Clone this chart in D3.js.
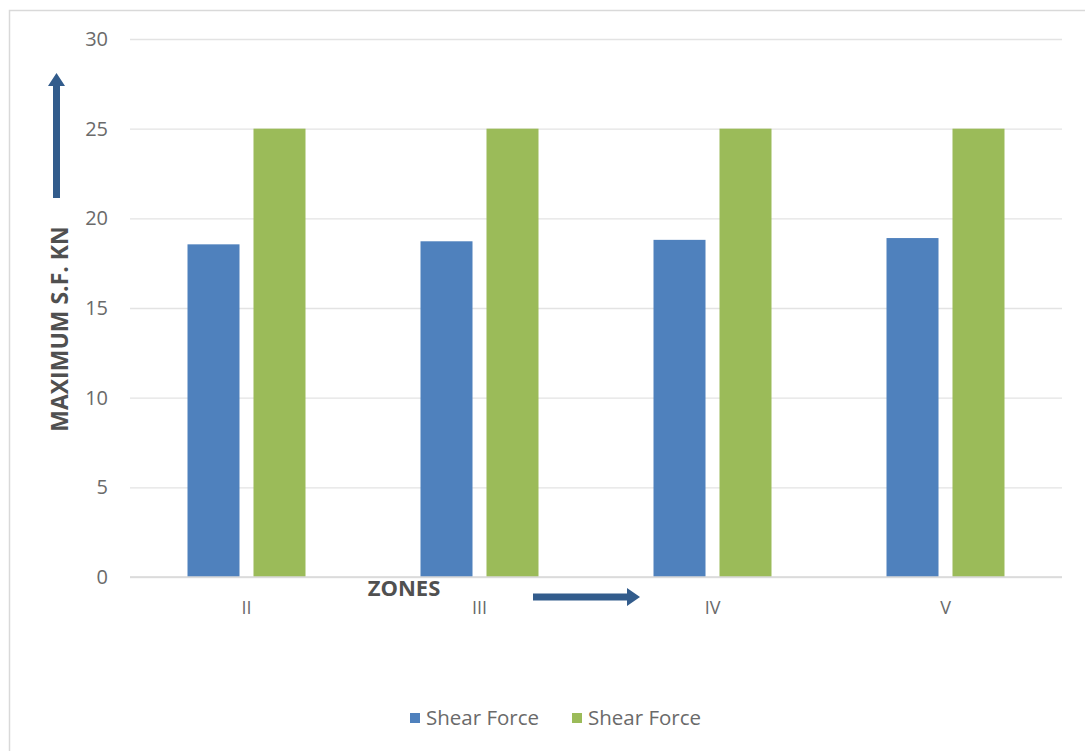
<!DOCTYPE html>
<html>
<head>
<meta charset="utf-8">
<script src="https://cdn.jsdelivr.net/npm/d3@7"></script>
<style>
  html, body { margin: 0; padding: 0; background: #fff; }
  svg { display: block; font-family: "Open Sans", sans-serif; }
</style>
</head>
<body>
<svg id="chart" width="1085" height="751"></svg>
<script>
// Zones on the x axis
const zones = ["II", "III", "IV", "V"];
// Maximum shear force (kN) per zone, two series
const shearForceA = [18.55, 18.72, 18.8, 18.9];
const shearForceB = [25, 25, 25, 25];
const seriesNames = ["Shear Force", "Shear Force"];
const seriesColors = ["#4f81bd", "#9bbb59"];
const yTicks = [0, 5, 10, 15, 20, 25, 30];

const svg = d3.select("#chart");
const W = 1085, H = 751;
const FONT = "'Open Sans', sans-serif";

// Outer chart frame
svg.append("rect")
  .attr("x", 9.5).attr("y", 10.5)
  .attr("width", W + 20).attr("height", H + 20)
  .attr("fill", "#fff").attr("stroke", "#d9d9d9").attr("stroke-width", 1.5);

const plot = { left: 130, right: 1062, top: 39, bottom: 577 };

const y = d3.scaleLinear().domain([0, 30]).range([plot.bottom, plot.top]);
const x0 = d3.scaleBand().domain(zones).range([plot.left, plot.right])
  .paddingInner(0.4936).paddingOuter(0.2468);
const x1 = d3.scaleBand().domain([0, 1]).range([0, x0.bandwidth()]).paddingInner(0.212);

// Gridlines and y tick labels
const yAxis = d3.axisLeft(y).tickValues(yTicks).tickSize(-(plot.right - plot.left)).tickPadding(22);
const gy = svg.append("g").attr("transform", `translate(${plot.left},0)`).call(yAxis);
gy.select(".domain").remove();
gy.selectAll(".tick line").attr("stroke", "#e3e3e3").attr("stroke-width", 1.3);
gy.selectAll(".tick text").attr("fill", "#6a6a6a").attr("font-size", 20)
  .attr("font-family", FONT);

// Bars
const data = zones.map((z, i) => ({ zone: z, values: [shearForceA[i], shearForceB[i]] }));
const groups = svg.append("g").selectAll("g").data(data).join("g")
  .attr("transform", d => `translate(${x0(d.zone)},0)`);
groups.selectAll("rect").data(d => d.values.map((v, k) => ({ v, k }))).join("rect")
  .attr("x", d => x1(d.k))
  .attr("width", x1.bandwidth())
  .attr("y", d => y(d.v))
  .attr("height", d => y(0) - y(d.v))
  .attr("fill", d => seriesColors[d.k]);

// Baseline
svg.append("line")
  .attr("x1", plot.left).attr("x2", plot.right)
  .attr("y1", y(0)).attr("y2", y(0))
  .attr("stroke", "#d9d9d9").attr("stroke-width", 1.3);

// X axis labels
const xAxis = d3.axisBottom(x0).tickSize(0).tickPadding(24);
const gx = svg.append("g").attr("transform", `translate(0,${plot.bottom})`).call(xAxis);
gx.select(".domain").remove();
gx.selectAll(".tick text").attr("fill", "#6a6a6a").attr("font-size", 18)
  .attr("font-family", FONT);

// Axis titles
svg.append("text")
  .attr("transform", "translate(68,329) rotate(-90)")
  .attr("text-anchor", "middle")
  .attr("font-size", 23).attr("font-weight", "bold").attr("fill", "#505050")
  .text("MAXIMUM S.F. KN");

svg.append("text")
  .attr("x", 404).attr("y", 596)
  .attr("text-anchor", "middle")
  .attr("font-size", 22).attr("font-weight", "bold").attr("fill", "#505050")
  .text("ZONES");

// Direction arrows
const arrowColor = "#325c8c";
svg.append("path")
  .attr("d", "M53,198 L53,86 L48,86 L56.5,73 L65,86 L60,86 L60,198 Z")
  .attr("fill", arrowColor);
svg.append("path")
  .attr("d", "M533,593.5 L627,593.5 L627,588 L640,597 L627,606 L627,600.5 L533,600.5 Z")
  .attr("fill", arrowColor);

// Legend
const legend = svg.append("g");
const legendX = [410, 572];
seriesNames.forEach((name, i) => {
  legend.append("rect")
    .attr("x", legendX[i]).attr("y", 713)
    .attr("width", 10).attr("height", 10)
    .attr("fill", seriesColors[i]);
  legend.append("text")
    .attr("x", legendX[i] + 16).attr("y", 725)
    .attr("font-size", 20.5).attr("fill", "#6a6a6a")
    .text(name);
});
</script>
</body>
</html>
